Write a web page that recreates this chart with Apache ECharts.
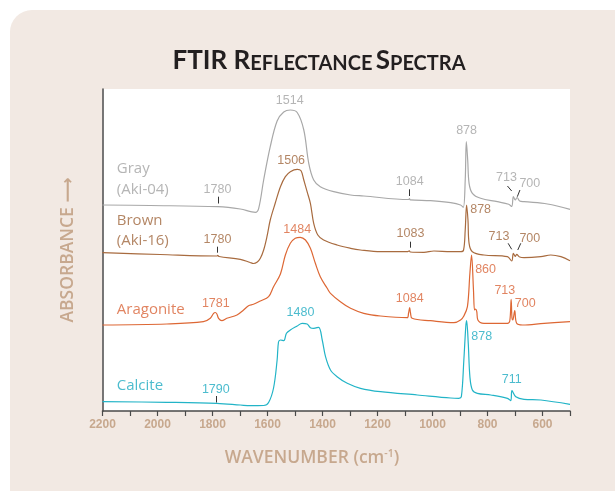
<!DOCTYPE html>
<html>
<head>
<meta charset="utf-8">
<script src="https://cdn.jsdelivr.net/npm/echarts@6/dist/echarts.min.js"></script>
<style>
html,body{margin:0;padding:0;background:#fff;}
#c{width:615px;height:491px;}
</style>
</head>
<body>
<div id="c"></div>
<script>
// Wavenumber (cm-1) vs. absorbance (arbitrary units, stacked offsets)
const gray = [[2200,206],[2027,205.5],[1780,204.3],[1699,202],[1644,198.7],[1632,202.7],[1614,231],[1590,264.3],[1565,290],[1541,299],[1517,301],[1492,298.5],[1468,281],[1450,247.7],[1432,231],[1408,224.3],[1359,219.3],[1298,216],[1250,215],[1087,211.5],[1084,212.5],[1081,211.2],[1007,210.3],[934,208.3],[898,206],[888,203.7],[881,231],[877,269.3],[872,251],[867,227.7],[855,217.7],[825,212.7],[764,209.3],[723,206.7],[712,204.5],[706,214.5],[699,211],[692.5,213.5],[683,210],[667,209.3],[582,207],[500,201.7]];
const brown = [[2200,158.3],[1990,156.5],[1784,155],[1781,155.7],[1776,154.5],[1699,151.7],[1663,148.5],[1651,147.5],[1637,149],[1626,152.7],[1614,161],[1602,174.3],[1590,191],[1572,207.7],[1553,224.3],[1535,234.3],[1517,239.3],[1492,241.7],[1478,240.3],[1468,231],[1456,219.3],[1444,207.7],[1432,187.7],[1417,176],[1396,171],[1347,166],[1298,162.7],[1262,161],[1189,159.3],[1092,159.3],[1084,160.2],[1081,159],[1031,158.7],[995,160],[934,159.3],[898,159.3],[887,161],[881,181],[876,206],[871,191],[867,167.7],[855,159.3],[813,156],[727.5,154.3],[712,150],[706,157.7],[699,154.5],[694,156.7],[683,154],[667,153.3],[606,154.3],[570,156],[533,154.3],[500,150.3]];
const aragonite = [[2200,86],[1966,87],[1833,89.3],[1808,92.7],[1796,97.7],[1790,98.5],[1784,97],[1778,92.7],[1766,90.3],[1748,92.7],[1711,96],[1687,101],[1669,105.3],[1651,106.7],[1626,110],[1596,114.3],[1578,124.3],[1553,137],[1535,156],[1517,167.7],[1499,172.7],[1481,173.7],[1462,171],[1444,162.7],[1426,147.7],[1408,134.3],[1383,122.7],[1371,117.7],[1335,109.3],[1298,102.7],[1250,97.7],[1189,95],[1092,93.3],[1087,98],[1083,103.3],[1080,98],[1074,92.7],[1007,90.3],[922,88.3],[898,91],[886,95],[873,104.3],[864,137.7],[858,156],[851,121],[847,101],[843,102],[839,99.3],[835,91],[813,87.7],[727.5,87.7],[719,90],[714,111.7],[711,93],[708,91],[701,100.3],[694,87.7],[673,86],[594,87.7],[500,89.3]];
const calcite = [[2200,9.3],[1966,8.7],[1784,7.7],[1699,6],[1663,5.3],[1614,5.5],[1596,8.5],[1578,23],[1565,51],[1560,69],[1553,71],[1541,70.3],[1531,77.7],[1517,81],[1492,85],[1474,87.7],[1456,87],[1444,83.3],[1432,82.7],[1414,83.7],[1401,71],[1389,54.3],[1371,41],[1347,34.3],[1310,27.7],[1262,22.7],[1189,19.3],[1055,16],[934,13],[904,12.7],[895,14.3],[886,51],[879,84.3],[876,90.3],[870,67.7],[864,34.3],[855,21],[837,17.7],[788,16],[727.5,12.7],[715.5,10.3],[711,20.3],[697,14.3],[667,11.7],[606,11],[500,6.7]];

// Peak labels: [wavenumber, absorbance, text]
const grayLabels = [[1519,310.3,'1514'],[1782,221,'1780'],[1083,229.3,'1084'],[876,280.3,'878'],[731,233.7,'713'],[646,227,'700']];
const brownLabels = [[1514,250,'1506'],[1782,171.7,'1780'],[1080,177.7,'1083'],[825,201,'878'],[758,174.3,'713'],[646,172,'700']];
const aragoniteLabels = [[1492,181.7,'1484'],[1788,107.7,'1781'],[1083,112,'1084'],[807,141,'860'],[737,120.3,'713'],[663,107,'700']];
const calciteLabels = [[1480,98.3,'1480'],[1788,21.7,'1790'],[821,74.3,'878'],[712,31,'711']];

// Sample names: [wavenumber, absorbance, text]
const grayName = [[2148,242.7,'Gray'],[2148,221.7,'(Aki-04)']];
const brownName = [[2148,190.3,'Brown'],[2148,170,'(Aki-16)']];
const aragoniteName = [[2148,101,'Aragonite']];
const calciteName = [[2148,25.3,'Calcite']];

// Leader ticks: [[wn1,a1],[wn2,a2]]
const leaders = [
  [[1780,214.3],[1780,207.5]],
  [[1083,221.7],[1083,215]],
  [[1781,164.3],[1781,158.3]],
  [[1080,169.3],[1080,163.3]],
  [[1788,15],[1788,8.5]],
  [[727.5,225],[712,220]],
  [[682,221],[691.6,214.3]],
  [[725,167.7],[712,161.7]],
  [[679,167.7],[690,161]]
];

const xTicks = {min:500, max:2200, interval:100};

const C = {
  gray:'#a8a8a8', grayT:'#a3a3a3',
  brown:'#a86b3f', brownT:'#a0683f',
  arag:'#dd6734', aragT:'#d9653a',
  calc:'#22b4c7', calcT:'#1fabc2',
  axisT:'#c7a88e', panel:'#f2e9e3'
};

function lineSeries(name, data, color){
  return {name, type:'line', data, symbol:'none', smooth:0.35,
    lineStyle:{color, width:1.2}, z:3, animation:false};
}
function labelSeries(data, color, size, family){
  return {type:'scatter', symbolSize:0, z:5, animation:false, silent:true,
    data: data.map(d => ({value:[d[0],d[1]], name:d[2]})),
    label:{show:true, position:'inside', formatter: p => p.name, color,
      fontSize:size, fontFamily:family}};
}
function nameSeries(data, color){
  return {type:'scatter', symbolSize:0, z:5, animation:false, silent:true,
    data: data.map(d => ({value:[d[0],d[1]], name:d[2]})),
    label:{show:true, position:'inside', align:'left', formatter: p => p.name, color,
      fontSize:15, fontFamily:'Open Sans'}};
}

const chart = echarts.init(document.getElementById('c'), null, {renderer:'canvas'});
const numFont = 'Liberation Sans';
const capFont = 'Open Sans';
chart.setOption({
  animation:false,
  backgroundColor:'#fff',
  graphic:[
    {type:'rect', z:-100, silent:true, shape:{x:10, y:10, width:640, height:520, r:22}, style:{fill:C.panel}},
    {type:'text', x:319, y:61, z:10, style:{
      text:'{b|FTIR R}{s|EFLECTANCE} {b|S}{s|PECTRA}', align:'center', verticalAlign:'middle',
      rich:{b:{fontSize:26, fontWeight:'bold', fontFamily:'Lato', fill:'#231f20', verticalAlign:'bottom'},
            s:{fontSize:20, fontWeight:'bold', fontFamily:'Lato', fill:'#231f20', verticalAlign:'bottom'}}}},
    {type:'text', x:312, y:458, z:10, style:{
      text:'{n|WAVENUMBER (cm}{u|-1}{n|)}', align:'center', verticalAlign:'middle',
      rich:{n:{fontSize:17.5, fontWeight:600, fontFamily:capFont, fill:C.axisT},
            u:{fontSize:10.5, fontWeight:600, fontFamily:capFont, fill:C.axisT, padding:[0,0,8,0]}}}},
    {type:'text', x:68, y:250, rotation:Math.PI/2, z:10, style:{
      text:'ABSORBANCE \u27F6', align:'center', verticalAlign:'middle',
      fontSize:17.5, fontWeight:600, fontFamily:capFont + ', DejaVu Sans', fill:C.axisT}}
  ],
  grid:{left:102.5, right:45, top:89, bottom:80, show:true, backgroundColor:'#fff', borderWidth:0},
  xAxis:{type:'value', inverse:true, min:xTicks.min, max:xTicks.max, interval:xTicks.interval,
    axisLine:{lineStyle:{color:'#4a4a4a', width:1.5}},
    axisTick:{length:5, lineStyle:{color:'#4a4a4a', width:1.2}},
    axisLabel:{margin:8, color:C.axisT, fontWeight:'bold', fontSize:12, fontFamily:numFont,
      formatter: v => (v % 200 === 0 && v !== 500) ? String(v) : '', showMaxLabel:true},
    splitLine:{show:false}},
  yAxis:{type:'value', min:0, max:322, axisLine:{show:true, lineStyle:{color:'#4a4a4a', width:1.5}},
    axisTick:{show:false}, axisLabel:{show:false}, splitLine:{show:false}},
  series:[
    lineSeries('Gray (Aki-04)', gray, C.gray),
    lineSeries('Brown (Aki-16)', brown, C.brown),
    lineSeries('Aragonite', aragonite, C.arag),
    lineSeries('Calcite', calcite, C.calc),
    {type:'lines', coordinateSystem:'cartesian2d', z:4, animation:false, silent:true,
      lineStyle:{color:'#333', width:1, opacity:1},
      data: leaders.map(l => ({coords:l}))},
    labelSeries(grayLabels, C.grayT, 12.5, numFont),
    labelSeries(brownLabels, C.brownT, 12.5, numFont),
    labelSeries(aragoniteLabels, C.aragT, 12.5, numFont),
    labelSeries(calciteLabels, C.calcT, 12.5, numFont),
    nameSeries(grayName, C.grayT),
    nameSeries(brownName, C.brownT),
    nameSeries(aragoniteName, C.aragT),
    nameSeries(calciteName, C.calcT)
  ]
});
</script>
</body>
</html>
